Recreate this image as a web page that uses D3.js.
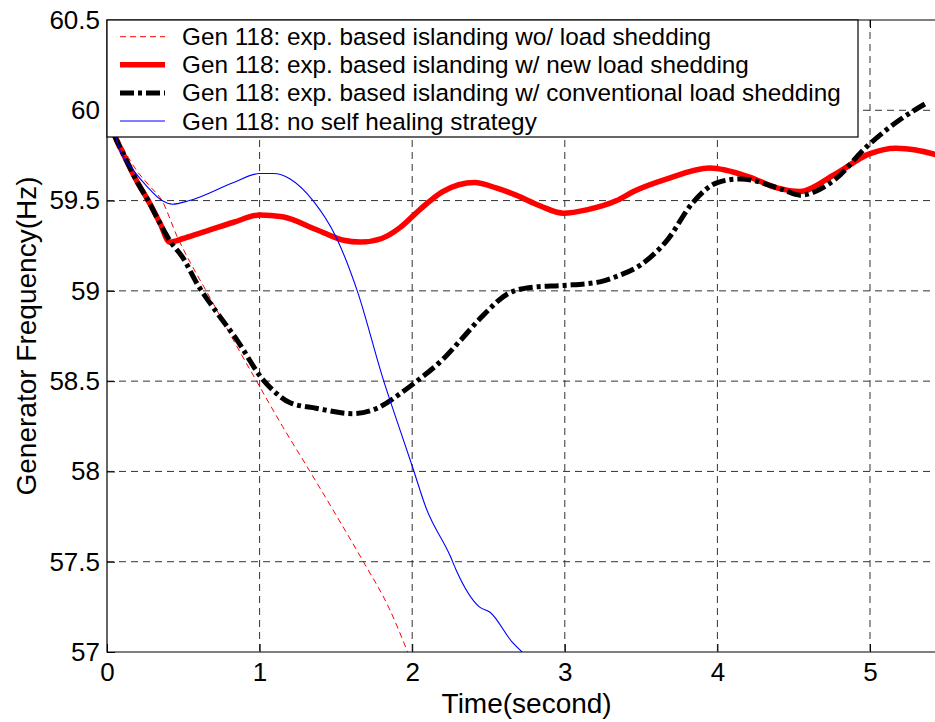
<!DOCTYPE html>
<html lang="en">
  <head>
    <meta charset="utf-8" />
    <script src="https://d3js.org/d3.v7.min.js"></script>
    <style>
      body {
        margin: 0;
        background: #fff;
      }
      svg {
        font-family: "Liberation Sans", Arial, sans-serif;
      }
      .tick line {
        stroke: #000;
      }
      .tick text {
        font-size: 26px;
        fill: #000;
      }
    </style>
  </head>
  <body>
    <svg width="935" height="722"></svg>
    <script>
      // tick values
      var xTicks = [0, 1, 2, 3, 4, 5];
      var yTicks = [57, 57.5, 58, 58.5, 59, 59.5, 60, 60.5];

      // legend labels
      var seriesNames = [
        "Gen 118: exp. based islanding wo/ load shedding",
        "Gen 118: exp. based islanding w/ new load shedding",
        "Gen 118: exp. based islanding w/ conventional load shedding",
        "Gen 118: no self healing strategy",
      ];

      // islanding, no load shedding (red dashed)
      var noShedT = [0, 0.1, 0.2, 0.28, 0.36, 0.46, 0.55, 0.65, 0.8, 0.98, 1.15, 1.33, 1.5, 1.68, 1.85, 1.97];
      var noShedF = [60.0, 59.8, 59.66, 59.58, 59.5, 59.3, 59.15, 59.0, 58.77, 58.5, 58.25, 58.0, 57.76, 57.5, 57.24, 57.0];

      // islanding, new load shedding (red thick)
      var newShedT = [0, 0.05, 0.1, 0.2, 0.27, 0.35, 0.41, 0.5, 0.61, 0.83, 1.0, 1.15, 1.37, 1.55, 1.66, 1.8, 1.92, 2.05, 2.2, 2.41, 2.55, 2.68, 2.84, 2.99, 3.15, 3.34, 3.45, 3.67, 3.95, 4.21, 4.39, 4.54, 4.76, 5.0, 5.17, 5.3, 5.45];
      var newShedF = [60.0, 59.86, 59.77, 59.6, 59.5, 59.37, 59.27, 59.29, 59.32, 59.38, 59.42, 59.41, 59.34, 59.28, 59.27, 59.29, 59.35, 59.45, 59.55, 59.6, 59.57, 59.53, 59.47, 59.43, 59.45, 59.5, 59.55, 59.62, 59.68, 59.63, 59.57, 59.55, 59.64, 59.76, 59.79, 59.78, 59.75];

      // islanding, conventional load shedding (black dash-dot)
      var convShedT = [0, 0.05, 0.1, 0.2, 0.27, 0.35, 0.41, 0.5, 0.59, 0.72, 0.85, 1.02, 1.1, 1.2, 1.37, 1.61, 1.77, 1.92, 2.03, 2.2, 2.31, 2.46, 2.64, 2.79, 2.99, 3.23, 3.34, 3.49, 3.67, 3.84, 4.0, 4.15, 4.43, 4.54, 4.76, 4.98, 5.2, 5.37];
      var convShedF = [60.0, 59.86, 59.77, 59.6, 59.5, 59.37, 59.28, 59.18, 59.04, 58.88, 58.73, 58.51, 58.44, 58.38, 58.35, 58.32, 58.35, 58.43, 58.5, 58.62, 58.72, 58.86, 58.99, 59.02, 59.03, 59.05, 59.08, 59.14, 59.28, 59.49, 59.6, 59.62, 59.56, 59.53, 59.61, 59.8, 59.95, 60.04];

      // no self healing (blue)
      var noHealT = [0, 0.05, 0.085, 0.18, 0.26, 0.36, 0.43, 0.54, 0.83, 1.0, 1.09, 1.2, 1.35, 1.5, 1.64, 1.81, 1.9, 2.0, 2.09, 2.25, 2.29, 2.44, 2.51, 2.66, 2.72];
      var noHealF = [60.0, 59.87, 59.78, 59.66, 59.58, 59.5, 59.48, 59.5, 59.6, 59.65, 59.65, 59.62, 59.5, 59.3, 59.0, 58.51, 58.28, 58.03, 57.8, 57.53, 57.45, 57.25, 57.22, 57.05, 57.0];

      var margin = { top: 20, left: 107 };
      var width = 839.3;
      var height = 632;

      var svg = d3.select("svg");

      var x = d3.scaleLinear().domain([0, 5.5]).range([0, width]);
      var y = d3.scaleLinear().domain([57, 60.5]).range([height, 0]);

      var g = svg
        .append("g")
        .attr("transform", "translate(" + margin.left + "," + margin.top + ")");

      g.append("clipPath")
        .attr("id", "plotClip")
        .append("rect")
        .attr("width", width)
        .attr("height", height);

      // dashed grid
      g.append("g")
        .selectAll("line")
        .data(xTicks.slice(1))
        .enter()
        .append("line")
        .attr("x1", (d) => x(d))
        .attr("x2", (d) => x(d))
        .attr("y1", 0)
        .attr("y2", height)
        .attr("stroke", "#333")
        .attr("stroke-dasharray", "7,5");

      g.append("g")
        .selectAll("line")
        .data(yTicks.slice(1, -1))
        .enter()
        .append("line")
        .attr("x1", 0)
        .attr("x2", width)
        .attr("y1", (d) => y(d))
        .attr("y2", (d) => y(d))
        .attr("stroke", "#333")
        .attr("stroke-dasharray", "7,5");

      function makeLine(ts, fs) {
        return ts.map(function (t, i) {
          return [t, fs[i]];
        });
      }

      var line = d3
        .line()
        .x((d) => x(d[0]))
        .y((d) => y(d[1]))
        .curve(d3.curveMonotoneX);

      var series = [
        { pts: makeLine(noShedT, noShedF), color: "#ff0000", w: 1, dash: "6,4" },
        { pts: makeLine(newShedT, newShedF), color: "#ff0000", w: 5.5, dash: null },
        { pts: makeLine(convShedT, convShedF), color: "#000", w: 5, dash: "14,4,4,4" },
        { pts: makeLine(noHealT, noHealF), color: "#0000ff", w: 1.1, dash: null },
      ];

      var lines = g.append("g").attr("clip-path", "url(#plotClip)");
      series.forEach(function (s) {
        lines
          .append("path")
          .datum(s.pts)
          .attr("d", line)
          .attr("fill", "none")
          .attr("stroke", s.color)
          .attr("stroke-width", s.w)
          .attr("stroke-dasharray", s.dash);
      });

      // axes box with inward ticks
      g.append("g")
        .attr("transform", "translate(0," + height + ")")
        .call(d3.axisBottom(x).tickValues(xTicks).tickSize(-8).tickPadding(11).tickFormat(d3.format("d")))
        .call((a) => a.select(".domain").remove());

      g.append("g")
        .call(d3.axisTop(x).tickValues(xTicks).tickSize(-8).tickFormat(""))
        .call((a) => a.select(".domain").remove());

      g.append("g")
        .call(
          d3
            .axisLeft(y)
            .tickValues(yTicks)
            .tickSize(-8)
            .tickPadding(7)
            .tickFormat((d) => String(d))
        )
        .call((a) => a.select(".domain").remove());

      g.append("path")
        .attr("d", "M" + width + ",0H0V" + height + "H" + width)
        .attr("fill", "none")
        .attr("stroke", "#000")
        .attr("stroke-width", 1.2);

      // legend
      var legend = g.append("g");
      legend
        .append("rect")
        .attr("x", 0)
        .attr("y", 0)
        .attr("width", 751)
        .attr("height", 117)
        .attr("fill", "#fff")
        .attr("stroke", "#000")
        .attr("stroke-width", 1.2);

      series.forEach(function (s, i) {
        var ly = 16.7 + i * 28.1;
        legend
          .append("line")
          .attr("x1", 13)
          .attr("x2", 58)
          .attr("y1", ly)
          .attr("y2", ly)
          .attr("stroke", s.color)
          .attr("stroke-width", s.w)
          .attr("stroke-dasharray", s.dash);
        legend
          .append("text")
          .attr("x", 75)
          .attr("y", ly)
          .attr("dy", "0.35em")
          .style("font-size", "24.3px")
          .text(seriesNames[i]);
      });

      svg
        .append("text")
        .attr("x", margin.left + width / 2)
        .attr("y", 713)
        .attr("text-anchor", "middle")
        .style("font-size", "28px")
        .text("Time(second)");

      svg
        .append("text")
        .attr("transform", "translate(36," + (margin.top + height / 2) + ") rotate(-90)")
        .attr("text-anchor", "middle")
        .style("font-size", "28px")
        .text("Generator Frequency(Hz)");
    </script>
  </body>
</html>
